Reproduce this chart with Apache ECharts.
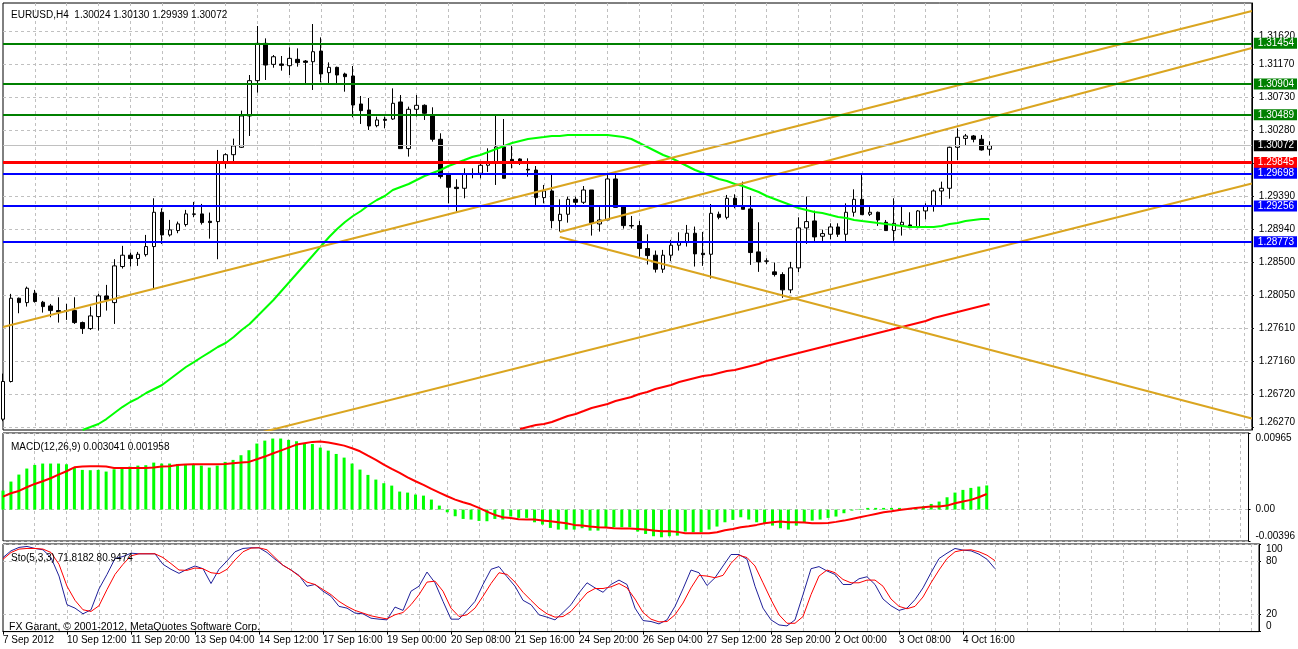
<!DOCTYPE html>
<html>
<head>
<meta charset="utf-8">
<title>EURUSD,H4</title>
<script src="https://cdn.jsdelivr.net/npm/echarts@6/dist/echarts.min.js"></script>
<style>
  html, body { margin: 0; padding: 0; background: #fff; }
  #box1 { width: 1298px; height: 649px; }
</style>
</head>
<body>
<div id="box1"></div>
<script>
// bar-by-bar H4 prices, k = 0 .. 124
var open = [1.26377,1.26886,1.28011,1.27952,1.28079,1.27957,1.27907,1.27844,1.27844,1.27844,
  1.27682,1.27601,1.27763,1.28042,1.27952,1.28439,1.28592,1.28547,1.28600,1.28709,
  1.29172,1.28866,1.28925,1.29006,1.29150,1.29150,1.29051,1.29046,1.29834,1.29950,
  1.30050,1.30473,1.30950,1.31454,1.31170,1.31175,1.31152,1.31238,1.31215,1.31206,
  1.31350,1.31058,1.31130,1.31040,1.31013,1.30635,1.30554,1.30342,1.30428,1.30432,
  1.30662,1.30032,1.30563,1.30617,1.30473,1.30158,1.29676,1.29510,1.29496,1.29690,
  1.29699,1.29807,1.29834,1.30054,1.29887,1.29892,1.29752,1.29743,1.29370,1.29460,
  1.29059,1.29145,1.29347,1.29307,1.29473,1.29014,1.29068,1.29622,1.29257,1.28992,
  1.28992,1.28682,1.28592,1.28403,1.28592,1.28727,1.28763,1.28889,1.28619,1.28605,
  1.29145,1.29104,1.29361,1.29257,1.29217,1.28637,1.28515,1.28367,1.28331,1.28124,
  1.28421,1.28961,1.29055,1.28848,1.28875,1.28974,1.28875,1.29172,1.29347,1.29145,
  1.29172,1.29037,1.28925,1.29001,1.29001,1.28965,1.29190,1.29257,1.29460,1.29496,
  1.30050,1.30170,1.30203,1.30158,1.30024]
var close = [1.26886,1.28011,1.27952,1.28146,1.27966,1.27898,1.27844,1.27826,1.27840,1.27682,
  1.27601,1.27772,1.28042,1.27988,1.28448,1.28592,1.28547,1.28605,1.28709,1.29172,
  1.28866,1.28934,1.29015,1.29150,1.29145,1.29033,1.29033,1.29834,1.29950,1.30068,
  1.30473,1.30950,1.31454,1.31161,1.31273,1.31157,1.31251,1.31193,1.31197,1.31341,
  1.31040,1.31130,1.31026,1.31004,1.30621,1.30545,1.30338,1.30419,1.30414,1.30644,
  1.30032,1.30563,1.30617,1.30509,1.30158,1.29654,1.29510,1.29492,1.29690,1.29694,
  1.29807,1.29834,1.30054,1.29631,1.29851,1.29865,1.29743,1.29370,1.29460,1.29059,
  1.29145,1.29347,1.29307,1.29473,1.29032,1.29068,1.29622,1.29239,1.28992,1.28988,
  1.28682,1.28587,1.28403,1.28592,1.28727,1.28763,1.28889,1.28610,1.28600,1.29158,
  1.29104,1.29361,1.29271,1.29212,1.28628,1.28502,1.28511,1.28331,1.28124,1.28421,
  1.28961,1.29046,1.28839,1.28884,1.28974,1.28875,1.29172,1.29347,1.29140,1.29172,
  1.29068,1.28925,1.29023,1.29037,1.28965,1.29190,1.29257,1.29460,1.29496,1.30050,
  1.30185,1.30203,1.30158,1.30014,1.30072]
var low = [1.26350,1.26873,1.27808,1.27898,1.27952,1.27817,1.27754,1.27682,1.27718,1.27664,
  1.27529,1.27583,1.27574,1.27844,1.27664,1.28412,1.28439,1.28448,1.28574,1.28146,
  1.28745,1.28844,1.28889,1.28979,1.29105,1.29006,1.28816,1.28538,1.29762,1.29861,
  1.30041,1.30203,1.30788,1.30959,1.31125,1.31085,1.31026,1.31139,1.30914,1.30824,
  1.30927,1.30914,1.30914,1.30801,1.30455,1.30365,1.30284,1.30320,1.30306,1.30419,
  1.30032,1.29924,1.30464,1.30419,1.30126,1.29627,1.29294,1.29181,1.29361,1.29631,
  1.29631,1.29717,1.29541,1.29631,1.29766,1.29811,1.29653,1.29271,1.29293,1.28956,
  1.28911,1.29032,1.29240,1.29284,1.28857,1.28911,1.29068,1.29239,1.28952,1.28952,
  1.28574,1.28466,1.28358,1.28354,1.28511,1.28655,1.28709,1.28439,1.28448,1.28277,
  1.29077,1.29077,1.29226,1.29212,1.28461,1.28367,1.28470,1.28304,1.28016,1.28079,
  1.28362,1.28745,1.28785,1.28785,1.28808,1.28839,1.28758,1.29113,1.29140,1.29122,
  1.28988,1.28925,1.28785,1.28857,1.28956,1.28956,1.29077,1.29181,1.29271,1.29356,
  1.29878,1.30081,1.30117,1.30005,1.29939]
var high = [1.26993,1.28070,1.28020,1.28168,1.28124,1.27975,1.27934,1.28024,1.27934,1.28024,
  1.27696,1.27898,1.28070,1.28191,1.28538,1.28718,1.28628,1.28637,1.28866,1.29361,
  1.29226,1.29069,1.29046,1.29204,1.29312,1.29285,1.29168,1.30014,1.29969,1.30167,
  1.30545,1.31026,1.31688,1.31521,1.31296,1.31283,1.31400,1.31386,1.31229,1.31715,
  1.31535,1.31197,1.31139,1.31058,1.31148,1.30743,1.30716,1.30464,1.30464,1.30846,
  1.30756,1.30599,1.30756,1.30630,1.30590,1.30239,1.29699,1.29618,1.29766,1.29766,
  1.29856,1.30036,1.30486,1.30432,1.30072,1.29901,1.29901,1.29797,1.29541,1.29698,
  1.29347,1.29383,1.29383,1.29527,1.29473,1.29248,1.29690,1.29730,1.29257,1.29122,
  1.29055,1.28875,1.28655,1.28664,1.28799,1.28902,1.29001,1.28979,1.28907,1.29284,
  1.29181,1.29406,1.29415,1.29586,1.29393,1.29037,1.28551,1.28493,1.28362,1.28502,
  1.29104,1.29384,1.29194,1.28938,1.29023,1.29023,1.29293,1.29482,1.29676,1.29248,
  1.29181,1.29068,1.29361,1.29248,1.29172,1.29203,1.29293,1.29482,1.29586,1.30058,
  1.30306,1.30230,1.30216,1.30216,1.30130]

// moving averages (first bar index given separately)
var fastMAStart = 10
var fastMA = [1.26231,1.26271,1.26312,1.26379,1.26460,1.26541,1.26609,1.26663,1.26731,1.26785,
  1.26839,1.26920,1.27001,1.27082,1.27149,1.27217,1.27284,1.27352,1.27406,1.27487,
  1.27582,1.27663,1.27771,1.27879,1.27987,1.28109,1.28230,1.28352,1.28473,1.28595,
  1.28717,1.28838,1.28946,1.29041,1.29122,1.29189,1.29270,1.29338,1.29392,1.29473,
  1.29514,1.29554,1.29608,1.29662,1.29703,1.29743,1.29797,1.29838,1.29878,1.29919,
  1.29946,1.29986,1.30027,1.30068,1.30108,1.30135,1.30162,1.30176,1.30189,1.30203,
  1.30203,1.30216,1.30216,1.30216,1.30216,1.30216,1.30216,1.30203,1.30189,1.30162,
  1.30108,1.30054,1.30000,1.29946,1.29905,1.29851,1.29797,1.29743,1.29703,1.29662,
  1.29622,1.29595,1.29554,1.29527,1.29487,1.29446,1.29392,1.29352,1.29311,1.29270,
  1.29230,1.29203,1.29176,1.29162,1.29135,1.29108,1.29095,1.29068,1.29054,1.29041,
  1.29027,1.29014,1.29000,1.28987,1.28973,1.28973,1.28973,1.28973,1.28987,1.29014,
  1.29027,1.29054,1.29068,1.29081,1.29081]
var slowMAStart = 65
var slowMA = [1.26244,1.26271,1.26298,1.26312,1.26339,1.26379,1.26420,1.26447,1.26487,1.26528,
  1.26555,1.26582,1.26622,1.26650,1.26677,1.26717,1.26744,1.26785,1.26812,1.26839,
  1.26879,1.26906,1.26933,1.26960,1.26974,1.27001,1.27028,1.27041,1.27068,1.27095,
  1.27122,1.27163,1.27190,1.27217,1.27244,1.27271,1.27298,1.27325,1.27352,1.27379,
  1.27406,1.27433,1.27460,1.27487,1.27514,1.27541,1.27568,1.27595,1.27622,1.27649,
  1.27676,1.27703,1.27744,1.27771,1.27798,1.27825,1.27852,1.27879,1.27906,1.27933]

var macdMain = [0.00239,0.00353,0.00441,0.00517,0.00563,0.00580,0.00580,0.00580,0.00571,0.00533,
  0.00500,0.00496,0.00500,0.00479,0.00508,0.00512,0.00542,0.00554,0.00559,0.00592,
  0.00580,0.00580,0.00575,0.00567,0.00563,0.00554,0.00529,0.00554,0.00601,0.00626,
  0.00685,0.00748,0.00832,0.00869,0.00895,0.00895,0.00878,0.00861,0.00836,0.00827,
  0.00781,0.00743,0.00701,0.00655,0.00580,0.00504,0.00437,0.00378,0.00332,0.00302,
  0.00227,0.00214,0.00189,0.00176,0.00126,0.00050,-0.00034,-0.00084,-0.00118,-0.00126,
  -0.00143,-0.00147,-0.00118,-0.00126,-0.00088,-0.00105,-0.00105,-0.00160,-0.00189,-0.00231,
  -0.00252,-0.00252,-0.00252,-0.00235,-0.00265,-0.00265,-0.00223,-0.00223,-0.00223,-0.00223,
  -0.00277,-0.00307,-0.00336,-0.00349,-0.00336,-0.00328,-0.00277,-0.00286,-0.00286,-0.00252,
  -0.00214,-0.00160,-0.00130,-0.00097,-0.00126,-0.00160,-0.00181,-0.00202,-0.00235,-0.00252,
  -0.00202,-0.00160,-0.00139,-0.00126,-0.00105,-0.00088,-0.00046,-0.00013,0.00008,0.00021,
  0.00021,0.00021,0.00021,0.00021,0.00013,0.00021,0.00042,0.00071,0.00101,0.00155,
  0.00214,0.00248,0.00273,0.00290,0.00304]
var macdSignal = [0.00164,0.00206,0.00235,0.00281,0.00323,0.00357,0.00395,0.00441,0.00483,0.00533,
  0.00542,0.00546,0.00546,0.00542,0.00525,0.00525,0.00525,0.00525,0.00525,0.00529,
  0.00542,0.00546,0.00563,0.00567,0.00571,0.00571,0.00571,0.00571,0.00575,0.00584,
  0.00592,0.00601,0.00634,0.00668,0.00706,0.00743,0.00781,0.00819,0.00836,0.00853,
  0.00857,0.00844,0.00827,0.00806,0.00773,0.00735,0.00680,0.00626,0.00567,0.00512,
  0.00462,0.00407,0.00357,0.00311,0.00260,0.00214,0.00168,0.00126,0.00092,0.00063,
  0.00021,-0.00025,-0.00067,-0.00097,-0.00105,-0.00122,-0.00126,-0.00126,-0.00139,-0.00147,
  -0.00160,-0.00172,-0.00193,-0.00202,-0.00214,-0.00223,-0.00227,-0.00235,-0.00239,-0.00239,
  -0.00244,-0.00252,-0.00265,-0.00273,-0.00273,-0.00281,-0.00298,-0.00298,-0.00298,-0.00298,
  -0.00286,-0.00260,-0.00244,-0.00223,-0.00210,-0.00193,-0.00172,-0.00160,-0.00151,-0.00160,
  -0.00160,-0.00164,-0.00172,-0.00172,-0.00168,-0.00155,-0.00139,-0.00118,-0.00097,-0.00076,
  -0.00055,-0.00034,-0.00021,-0.00004,0.00008,0.00021,0.00029,0.00038,0.00038,0.00050,
  0.00080,0.00101,0.00122,0.00155,0.00196]

var stochMain = [84.5,92.2,96.1,97.2,94.9,93.4,84.5,63.4,30.7,26.8,
  20.3,24.9,48.8,65.3,83.4,85.7,89.5,88.8,88.8,88.8,
  76.8,71.1,66.5,71.1,74.9,71.8,54.9,71.1,80.7,91.1,
  94.9,95.7,95.7,90.3,82.6,75.7,70.3,64.2,51.8,53.8,
  46.1,40.3,28.8,26.8,21.1,20.3,15.3,14.2,13.4,28.0,
  24.2,46.1,51.8,68.0,55.7,34.5,14.2,14.2,24.2,34.5,
  53.8,71.1,74.2,62.6,51.8,35.7,30.7,19.2,16.5,13.4,
  21.8,30.7,44.2,55.7,49.9,44.9,53.8,58.8,53.8,26.8,
  12.6,11.5,8.8,13.4,28.8,48.8,70.3,67.2,52.6,61.5,
  74.9,88.0,88.0,82.6,51.8,26.8,13.4,7.6,6.5,13.4,
  42.2,71.8,74.2,69.2,65.3,53.8,53.8,60.3,62.6,53.8,
  37.2,29.5,24.2,26.8,36.5,49.9,67.2,83.4,89.5,94.9,
  93.0,92.2,88.4,82.6,71.8]
var stochSignal = [82.6,90.3,94.2,94.9,94.9,94.2,90.3,76.8,51.8,35.7,
  24.9,23.0,29.5,48.0,65.3,76.8,86.5,88.8,88.8,88.8,
  84.5,77.6,70.3,69.9,72.6,71.8,67.2,66.1,71.1,81.8,
  91.1,95.3,95.7,93.4,84.5,75.7,70.3,63.4,56.5,53.8,
  48.0,42.2,34.5,28.8,24.2,21.1,18.0,16.1,14.5,19.2,
  21.8,30.7,42.2,56.5,57.6,46.1,26.8,17.2,19.2,26.8,
  40.3,54.9,67.2,65.3,56.5,44.9,35.7,26.8,20.3,16.5,
  17.2,23.0,33.4,44.2,49.2,49.2,51.1,54.9,49.9,37.2,
  21.8,14.2,11.1,11.5,19.2,32.6,49.9,64.2,63.4,61.5,
  64.2,78.0,87.2,84.5,74.9,55.7,36.5,19.2,9.5,9.5,
  17.2,42.2,63.4,70.3,67.2,59.5,55.7,55.7,58.8,58.8,
  51.8,37.2,28.8,26.1,28.8,39.5,55.7,70.3,83.4,91.1,
  93.0,93.4,91.1,87.2,80.9]

// horizontal levels drawn on the chart
var greenLevels = [1.31454, 1.30904, 1.30489]
var redLevels = [1.29845]
var blueLevels = [1.29698, 1.29256, 1.28773]

// trend lines, each [[barIndex, price], [barIndex, price]]
var trendLines = [
  [[0, 1.27622], [157, 1.31891]],
  [[70, 1.28906], [157, 1.31392]],
  [[70, 1.28838], [157, 1.26386]],
  [[30, 1.26132], [157, 1.29560]]
]

var priceTicks = [1.26270, 1.26720, 1.27160, 1.27610, 1.28050, 1.28500, 1.28940, 1.29390, 1.29835, 1.30280, 1.30730, 1.31170, 1.31620]
var timeLabels = ['7 Sep 2012', '10 Sep 12:00', '11 Sep 20:00', '13 Sep 04:00', '14 Sep 12:00', '17 Sep 16:00',
  '19 Sep 00:00', '20 Sep 08:00', '21 Sep 16:00', '24 Sep 20:00', '26 Sep 04:00', '27 Sep 12:00',
  '28 Sep 20:00', '2 Oct 00:00', '3 Oct 08:00', '4 Oct 16:00']

var slots = 158  // bars plus the empty shift area on the right
var FONT = '"Liberation Sans", Arial, sans-serif'
var GRIDCLR = '#C0C0C0'

var cats = []
for (var i = 0; i < slots; i++) cats.push(String(i))

var candles = open.map(function (o, i) { return [o, close[i], low[i], high[i]] })

function pad(start, arr) {
  var out = []
  for (var i = 0; i < start; i++) out.push(null)
  return out.concat(arr)
}

var last = open.length - 1
var lastPrice = close[last]

var levelMarks = []
levelMarks.push({ yAxis: lastPrice, lineStyle: { color: '#C0C0C0', width: 1 }, label: { backgroundColor: '#000000' } })
greenLevels.forEach(function (v) { levelMarks.push({ yAxis: v, lineStyle: { color: '#008000', width: 2 }, label: { backgroundColor: '#008000' } }) })
redLevels.forEach(function (v) { levelMarks.push({ yAxis: v, lineStyle: { color: '#FF0000', width: 3 }, label: { backgroundColor: '#FF0000' } }) })
blueLevels.forEach(function (v) { levelMarks.push({ yAxis: v, lineStyle: { color: '#0000FF', width: 2 }, label: { backgroundColor: '#0000FF' } }) })

function catAxis(gridIndex, bottom) {
  return {
    type: 'category',
    gridIndex: gridIndex,
    data: cats,
    boundaryGap: false,
    axisLine: { show: bottom, lineStyle: { color: '#000', width: 1 } },
    axisTick: {
      show: bottom, length: 3, lineStyle: { color: '#000' },
      interval: function (i) { return i % 8 === 0 && i / 8 < timeLabels.length }
    },
    axisLabel: {
      show: bottom, align: 'left', margin: 4, fontSize: 10, fontFamily: FONT, color: '#000',
      interval: function (i) { return i % 8 === 0 && i / 8 < timeLabels.length },
      formatter: function (v) { return timeLabels[Number(v) / 8] || '' }
    },
    splitLine: {
      show: true,
      interval: function (i) { return i > 0 && i % 4 === 0 },
      lineStyle: { color: GRIDCLR, type: [3, 3], width: 1 }
    }
  }
}

function valAxis(gridIndex, min, max, ticks, labels, fmt) {
  return {
    type: 'value',
    gridIndex: gridIndex,
    position: 'right',
    min: min,
    max: max,
    axisLine: { show: true, lineStyle: { color: '#000', width: 1 } },
    axisTick: { show: true, length: 2, customValues: ticks, lineStyle: { color: '#000' } },
    axisLabel: {
      show: true, margin: 7, fontSize: 10, fontFamily: FONT, color: '#000',
      customValues: labels, formatter: fmt,
      verticalAlignMinLabel: 'bottom', verticalAlignMaxLabel: 'top'
    },
    splitLine: { show: true, lineStyle: { color: GRIDCLR, type: [3, 3], width: 1 } }
  }
}

var chart = echarts.init(document.getElementById('box1'), null, { renderer: 'canvas' })

var trendSeries = trendLines.map(function (seg) {
  return {
    type: 'line', xAxisIndex: 0, yAxisIndex: 0, data: seg, symbol: 'none', silent: true,
    clip: true, lineStyle: { color: '#DAA520', width: 2 }, z: 4
  }
})

var option = {
  animation: false,
  backgroundColor: '#fff',
  textStyle: { fontFamily: FONT },
  title: [
    { text: 'EURUSD,H4  ' + [open[last], high[last], low[last], close[last]].map(function (v) { return v.toFixed(5) }).join(' '),
      left: 6, top: 5, textStyle: { fontSize: 10, fontWeight: 'normal', color: '#000', fontFamily: FONT } },
    { text: 'MACD(12,26,9) 0.003041 0.001958', left: 6, top: 437,
      textStyle: { fontSize: 10, fontWeight: 'normal', color: '#000', fontFamily: FONT } },
    { text: 'Sto(5,3,3) 71.8182 80.9474', left: 6, top: 548,
      textStyle: { fontSize: 10, fontWeight: 'normal', color: '#000', fontFamily: FONT } },
    { text: 'FX Garant, \u00A9 2001-2012, MetaQuotes Software Corp.', left: 4, top: 617,
      textStyle: { fontSize: 10.5, fontWeight: 'normal', color: '#000', fontFamily: FONT } }
  ],
  grid: [
    { left: 3, top: 3, width: 1256, height: 427, show: true, borderColor: '#000', borderWidth: 1, backgroundColor: '#fff' },
    { left: 3, top: 433, width: 1256, height: 108, show: true, borderColor: '#000', borderWidth: 1, backgroundColor: '#fff' },
    { left: 3, top: 544, width: 1256, height: 87.6, show: true, borderColor: '#000', borderWidth: 1, backgroundColor: '#fff' }
  ],
  xAxis: [catAxis(0, false), catAxis(1, false), catAxis(2, true)],
  yAxis: [
    valAxis(0, 1.26231, 1.31999, priceTicks,
      priceTicks.filter(function (v) { return v !== 1.29835 }),
      function (v) { return v.toFixed(5) }),
    valAxis(1, -0.00396, 0.00965, [-0.00396, 0, 0.00965], [-0.00396, 0, 0.00965],
      function (v) { return v === 0 ? '0.00' : v.toFixed(5) }),
    valAxis(2, 0, 100, [0, 20, 80, 100], [0, 20, 80, 100],
      function (v) { return String(v) })
  ],
  series: [
    {
      name: 'EURUSD', type: 'candlestick', xAxisIndex: 0, yAxisIndex: 0, data: candles,
      barWidth: 4, z: 2,
      itemStyle: { color: '#fff', color0: '#000', borderColor: '#000', borderColor0: '#000', borderColorDoji: '#000', borderWidth: 1 }
    },
    {
      name: 'MA fast', type: 'line', xAxisIndex: 0, yAxisIndex: 0, data: pad(fastMAStart, fastMA),
      symbol: 'none', z: 3, lineStyle: { color: '#00FF00', width: 2 }
    },
    {
      name: 'MA slow', type: 'line', xAxisIndex: 0, yAxisIndex: 0, data: pad(slowMAStart, slowMA),
      symbol: 'none', z: 3, lineStyle: { color: '#FF0000', width: 2 }
    }
  ].concat(trendSeries).concat([
    {
      name: 'levels', type: 'line', xAxisIndex: 0, yAxisIndex: 0, data: [], clip: false, z: 5,
      markLine: {
        silent: true, symbol: ['none', 'none'], animation: false, precision: 5,
        lineStyle: { type: 'solid' },
        label: {
          show: true, position: 'end', distance: 2, color: '#fff', fontSize: 10, fontFamily: FONT,
          padding: [1, 3, 0, 4],
          formatter: function (p) { return Number(p.value).toFixed(5) }
        },
        emphasis: { disabled: true },
        data: levelMarks
      }
    },
    {
      name: 'MACD', type: 'bar', xAxisIndex: 1, yAxisIndex: 1, data: macdMain,
      barWidth: 3, itemStyle: { color: '#00FF00' }
    },
    {
      name: 'Signal', type: 'line', xAxisIndex: 1, yAxisIndex: 1, data: macdSignal,
      symbol: 'none', lineStyle: { color: '#FF0000', width: 2 }
    },
    {
      name: '%K', type: 'line', xAxisIndex: 2, yAxisIndex: 2, data: stochMain,
      symbol: 'none', lineStyle: { color: '#20209A', width: 1 }
    },
    {
      name: '%D', type: 'line', xAxisIndex: 2, yAxisIndex: 2, data: stochSignal,
      symbol: 'none', lineStyle: { color: '#FF0000', width: 1 }
    }
  ])
}
chart.setOption(option)
</script>
</body>
</html>
